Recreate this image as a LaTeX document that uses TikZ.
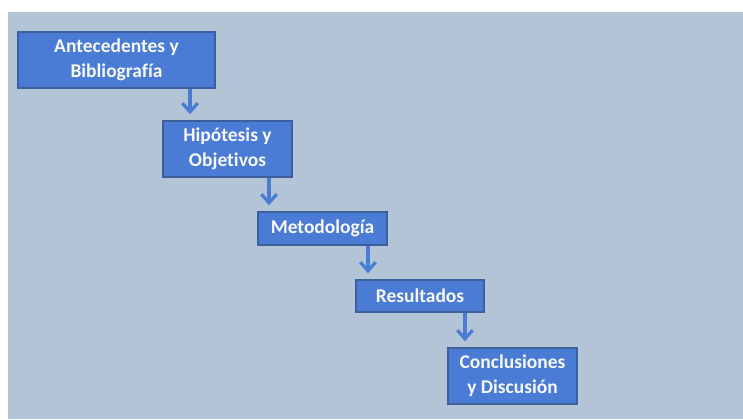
\documentclass[tikz,border=0pt]{standalone}
\usepackage{fontspec}
\setmainfont{Carlito}[Ligatures=NoCommon]
\usetikzlibrary{arrows.meta}

\definecolor{fondo}{HTML}{B3C4D6}
\definecolor{caja}{HTML}{4A7CD5}
\definecolor{borde}{HTML}{3D5F9C}
\definecolor{flecha}{HTML}{4A7CD5}
\definecolor{letra}{HTML}{F8F8F2}

\tikzset{
  paso/.style={draw=borde, line width=1.1pt, fill=caja, text=letra, inner sep=0pt,
    minimum width=129*0.75pt, minimum height=56*0.75pt, align=center,
    font=\fontsize{14.6pt}{18.5pt}\selectfont\bfseries},
  flujo/.style={draw=flecha, line width=2.6pt, shorten >=4.5pt,
    -{Straight Barb[length=6.5pt,width=11.5pt,line width=2.4pt]}}
}

\begin{document}
\begin{tikzpicture}[x=0.75pt,y=-0.75pt]

\useasboundingbox (0,0) rectangle (743,419);
\fill[white] (0,0) rectangle (743,419);
\fill[fondo] (8,12) rectangle (743,419);

\node[paso, minimum width=197*0.75pt] (ante) at (116.5,60)  {Antecedentes y\\Bibliografía};
\node[paso] (hipo) at (227.5,149) {Hipótesis y\\Objetivos};
\node[paso, minimum height=33*0.75pt] (meto) at (322.5,228.5) {Metodología};
\node[paso, minimum width=128*0.75pt, minimum height=32*0.75pt] (resu) at (420,296) {Resultados};
\node[paso] (conc) at (512.5,376) {Conclusiones\\y Discusión};

\draw[flujo] (ante.south -| 190,0) -- (hipo.north -| 190,0);
\draw[flujo] (hipo.south -| 269,0) -- (meto.north -| 269,0);
\draw[flujo] (meto.south -| 368,0) -- (resu.north -| 368,0);
\draw[flujo] (resu.south -| 465,0) -- (conc.north -| 465,0);

\end{tikzpicture}
\end{document}
